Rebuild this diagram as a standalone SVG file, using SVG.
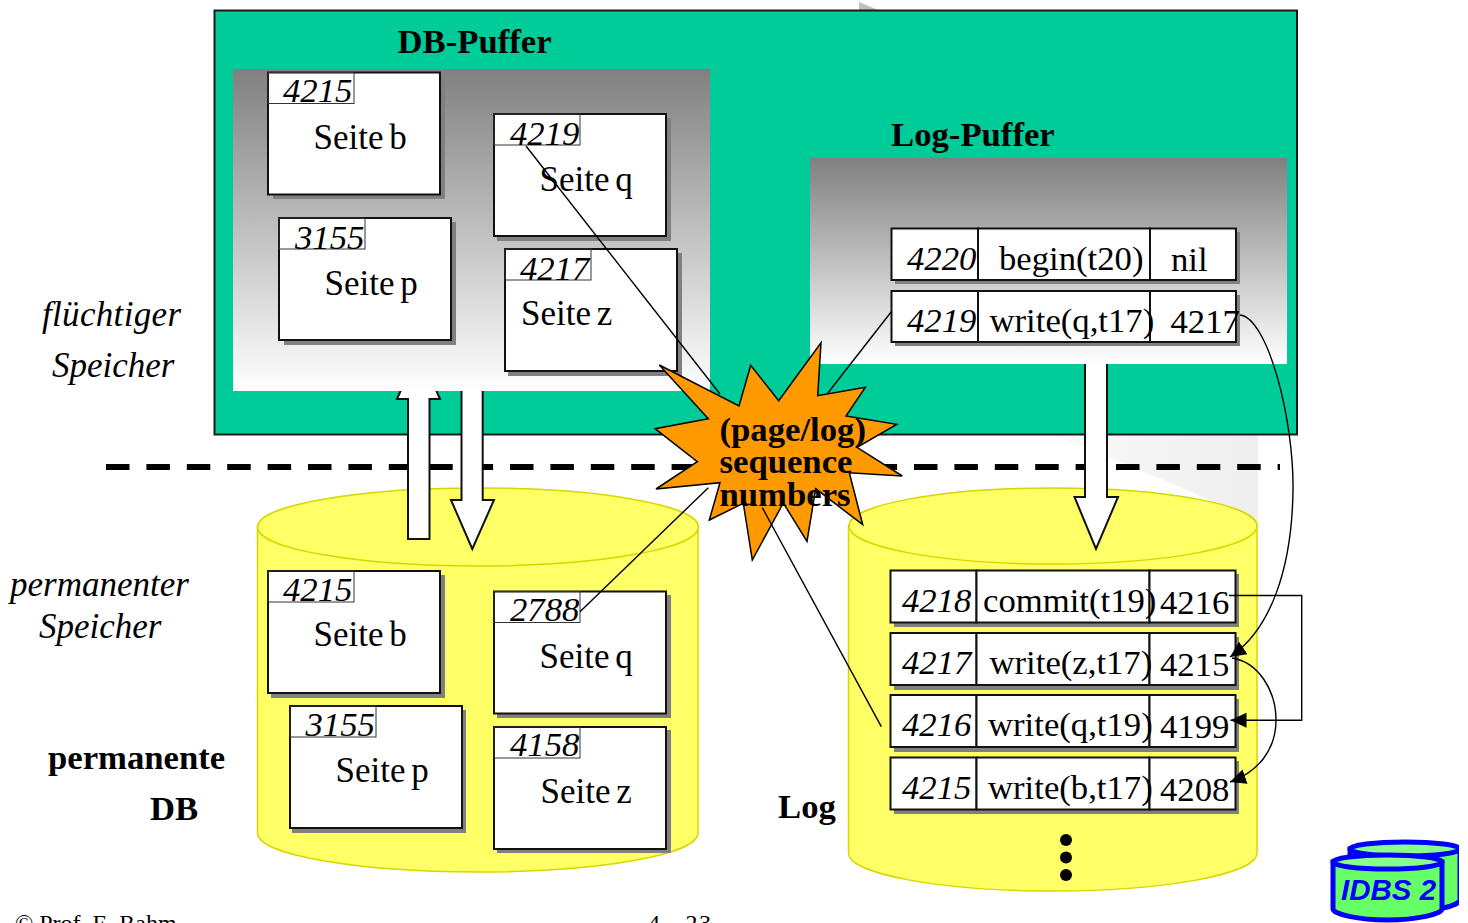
<svg xmlns="http://www.w3.org/2000/svg" width="1468" height="923" viewBox="0 0 1468 923">
<style>
text{font-family:"Liberation Serif","Times New Roman",serif;fill:#000}
.n{font-size:34.700px;font-style:italic}
.t{font-size:34.700px}
.s{font-size:35px;word-spacing:-3px}
.b{font-size:34.700px;font-weight:700}
.i{font-size:35px;font-style:italic}
.cyl{fill:#ffff66;stroke:#d6d600;stroke-width:1.500}
.pg{fill:#fff;stroke:#111;stroke-width:2}
.hd{fill:none;stroke:#333;stroke-width:1}
.sh{fill:#808080}
.cell{fill:#fff;stroke:#111;stroke-width:2}
.arrow{fill:#fff;stroke:#111;stroke-width:2;stroke-linejoin:miter}
.con{fill:none;stroke:#000;stroke-width:1.400}
.idb{stroke:#0000ff;stroke-width:5;fill:#66ff66}
.idt{fill:#88ff88;stroke:#0000ff;stroke-width:5}
</style>
<defs>
<linearGradient id="panel" x1="0" y1="0" x2="0" y2="1"><stop offset="0" stop-color="#808080"/><stop offset="1" stop-color="#fff"/></linearGradient>
<linearGradient id="fade" x1="0" y1="0" x2="1" y2="0"><stop offset="0" stop-color="#fafafa"/><stop offset="1" stop-color="#eee"/></linearGradient>
<marker id="ah" markerUnits="userSpaceOnUse" markerWidth="18" markerHeight="16" refX="16" refY="7.500" orient="auto"><path d="M0,0L16,7.500L0,15z" fill="#000"/></marker>
<clipPath id="iconclip"><rect x="1320" y="830" width="139" height="93"/></clipPath>
</defs>

<g id="background-shapes">
<polygon points="859,2 859,10 878,10" fill="#bfbfbf"/>
<polygon points="1053,435 1258,435 1258,525 1190,491" fill="url(#fade)"/>
</g>

<g id="volatile-memory"><rect x="214.500" y="10.500" width="1082.500" height="424" fill="#00cc99" stroke="#1a1a1a" stroke-width="2"/></g>

<g id="separator"><line x1="106" y1="467" x2="1280" y2="467" stroke="#000" stroke-width="6" stroke-dasharray="23.500 16.900"/></g>

<g id="db-cylinder">
<path class="cyl" d="M257.500,527V833C257.500,854.500 356,872 478,872S698,854.500 698,833V527z"/>
<ellipse class="cyl" cx="478" cy="527" rx="220.500" ry="39"/>
</g>
<g id="log-cylinder">
<path class="cyl" d="M848.500,526V853C848.500,874 940,891 1053,891S1257,874 1257,853V526z"/>
<ellipse class="cyl" cx="1053" cy="526" rx="204" ry="38"/>
</g>

<g id="transfer-arrows">
<path class="arrow" d="M408,539V399H397L418.500,350L440,399H429.500V539z"/>
<path class="arrow" d="M461.500,380V500H451L472.300,549L494,500H482.700V380z"/>
<path class="arrow" d="M1085,350V497H1074.500L1096,549L1118,497H1107V350z"/>
</g>

<g id="db-buffer-panel"><rect x="233" y="69" width="477" height="322" fill="url(#panel)"/><text class="b" x="397.500" y="52.500">DB-Puffer</text></g>
<g id="log-buffer-panel"><rect x="810" y="158" width="477" height="206" fill="url(#panel)"/><text class="b" x="891" y="146">Log-Puffer</text></g>

<g id="buf-page-b"><rect class="sh" x="273" y="77" width="172" height="122"/><rect class="pg" x="268" y="72.500" width="172" height="122"/><rect class="hd" x="268" y="72.500" width="86" height="31"/><text class="n" x="283" y="102">4215</text><text class="s" x="313.500" y="149">Seite b</text></g>
<g id="buf-page-p"><rect class="sh" x="284" y="222" width="172" height="123"/><rect class="pg" x="279" y="218" width="172" height="122"/><rect class="hd" x="279" y="218" width="86" height="31"/><text class="n" x="295" y="249">3155</text><text class="s" x="324.500" y="295">Seite p</text></g>
<g id="buf-page-q"><rect class="sh" x="497" y="118" width="174" height="123"/><rect class="pg" x="494" y="114" width="172" height="122"/><rect class="hd" x="494" y="114" width="86" height="31"/><text class="n" x="510" y="145">4219</text><text class="s" x="539.500" y="190.500">Seite q</text></g>
<g id="buf-page-z"><rect class="sh" x="508" y="253" width="174" height="123"/><rect class="pg" x="505" y="249" width="172" height="122"/><rect class="hd" x="505" y="249" width="86" height="31"/><text class="n" x="520" y="280">4217</text><text class="s" x="521" y="325">Seite z</text></g>

<g id="log-buffer-4220"><rect class="sh" x="895" y="232" width="345" height="52"/><rect class="cell" x="891.500" y="228.500" width="86.500" height="51.500"/><rect class="cell" x="978" y="228.500" width="172" height="51.500"/><rect class="cell" x="1150" y="228.500" width="86" height="51.500"/><text class="n" x="907" y="270">4220</text><text class="t" x="999" y="270">begin(t20)</text><text class="t" x="1171" y="271">nil</text></g>
<g id="log-buffer-4219"><rect class="sh" x="895" y="295" width="345" height="51"/><rect class="cell" x="891.500" y="291" width="86.500" height="51"/><rect class="cell" x="978" y="291" width="172" height="51"/><rect class="cell" x="1150" y="291" width="86" height="51"/><text class="n" x="907" y="332">4219</text><text class="t" x="989.500" y="332">write(q,t17)</text><text class="t" x="1170.500" y="333">4217</text></g>

<g id="perm-page-b"><rect class="sh" x="271" y="575" width="174" height="123"/><rect class="pg" x="268" y="571" width="172" height="122"/><rect class="hd" x="268" y="571" width="86" height="31"/><text class="n" x="283" y="601">4215</text><text class="s" x="313.500" y="646">Seite b</text></g>
<g id="perm-page-p"><rect class="sh" x="292" y="710" width="174" height="123"/><rect class="pg" x="290" y="706" width="172" height="122"/><rect class="hd" x="290" y="706" width="86" height="31"/><text class="n" x="305.500" y="736">3155</text><text class="s" x="335.500" y="782">Seite p</text></g>
<g id="perm-page-q"><rect class="sh" x="497" y="595" width="174" height="123"/><rect class="pg" x="494" y="591.500" width="172" height="122"/><rect class="hd" x="494" y="591.500" width="86" height="31"/><text class="n" x="510" y="621">2788</text><text class="s" x="539.500" y="668">Seite q</text></g>
<g id="perm-page-z"><rect class="sh" x="497" y="730" width="174" height="123"/><rect class="pg" x="494" y="727" width="172" height="122"/><rect class="hd" x="494" y="727" width="86" height="31"/><text class="n" x="510" y="756">4158</text><text class="s" x="540.500" y="803">Seite z</text></g>

<g id="log-4218"><rect class="sh" x="894" y="574" width="345" height="53"/><rect class="cell" x="890.500" y="570.500" width="86" height="52"/><rect class="cell" x="976.500" y="570.500" width="173" height="52"/><rect class="cell" x="1149.500" y="570.500" width="86" height="52"/><text class="n" x="902" y="612">4218</text><text class="t" x="983" y="612">commit(t19)</text><text class="t" x="1160" y="614">4216</text></g>
<g id="log-4217"><rect class="sh" x="894" y="637" width="345" height="53"/><rect class="cell" x="890.500" y="633" width="86" height="52"/><rect class="cell" x="976.500" y="633" width="173" height="52"/><rect class="cell" x="1149.500" y="633" width="86" height="52"/><text class="n" x="902" y="674">4217</text><text class="t" x="989.500" y="674">write(z,t17)</text><text class="t" x="1160" y="676">4215</text></g>
<g id="log-4216"><rect class="sh" x="894" y="699" width="345" height="53"/><rect class="cell" x="890.500" y="695" width="86" height="52"/><rect class="cell" x="976.500" y="695" width="173" height="52"/><rect class="cell" x="1149.500" y="695" width="86" height="52"/><text class="n" x="902" y="736">4216</text><text class="t" x="988" y="736">write(q,t19)</text><text class="t" x="1160" y="738">4199</text></g>
<g id="log-4215"><rect class="sh" x="894" y="761" width="345" height="53"/><rect class="cell" x="890.500" y="757.500" width="86" height="52"/><rect class="cell" x="976.500" y="757.500" width="173" height="52"/><rect class="cell" x="1149.500" y="757.500" width="86" height="52"/><text class="n" x="902" y="799">4215</text><text class="t" x="988" y="799">write(b,t17)</text><text class="t" x="1160" y="801">4208</text></g>
<g id="log-more"><circle cx="1066" cy="840" r="6"/><circle cx="1066" cy="857.500" r="6"/><circle cx="1066" cy="875" r="6"/></g>

<g id="sequence-burst">
<polygon points="659.300,365 739,406 750.700,365.300 778.700,400.700 821,342.700 817.700,395.700 865.300,387.300 846,416 896.700,424.300 857,447.300 902.300,476 849.300,472.700 862.700,524.700 815.700,488.700 807,541.300 783.300,503 752.300,560 743.300,503.300 709.300,520 720,482.700 656,489 697.300,461.700 655,428.700 708.300,418.700" fill="#ff9900" stroke="#000" stroke-width="1.500"/>
<text class="b" x="719.500" y="441">(page/log)</text>
<text class="b" x="719.500" y="473">sequence</text>
<text class="b" x="719.500" y="506">numbers</text>
</g>

<g id="connectors">
<line class="con" x1="526" y1="146" x2="720" y2="394"/>
<line class="con" x1="891.300" y1="311.700" x2="827.700" y2="393.300"/>
<line class="con" x1="580" y1="611.700" x2="708.300" y2="487.700"/>
<line class="con" x1="762.300" y1="507.700" x2="881.300" y2="726.700"/>
<path class="con" marker-end="url(#ah)" d="M1240,315C1268,318 1294,420 1293,490C1292,570 1270,630 1230,657"/>
<path class="con" marker-end="url(#ah)" d="M1232,658C1258,662 1276,690 1276,720C1276,750 1258,772 1230,782"/>
<path class="con" marker-end="url(#ah)" d="M1229,595.500H1301.700V720.300H1230.500"/>
</g>

<g id="labels">
<text class="i" x="42" y="326" textLength="139">flüchtiger</text>
<text class="i" x="52" y="377">Speicher</text>
<text class="i" x="10" y="595.500">permanenter</text>
<text class="i" x="39" y="637.500">Speicher</text>
<text class="b" x="48" y="769">permanente</text>
<text class="b" x="150" y="820">DB</text>
<text class="b" x="778" y="818">Log</text>
<text x="15" y="931" font-size="24">© Prof. E. Rahm</text>
<text x="648" y="931" font-size="24" textLength="63">4 - 23</text>
</g>

<g id="idbs-logo" clip-path="url(#iconclip)">
<path class="idb" d="M1350,849V900C1350,905 1375,912 1405,912S1460,905 1460,900V849z"/>
<ellipse class="idt" cx="1405" cy="849" rx="55" ry="7"/>
<path class="idb" d="M1333,862V909C1333,914 1358,920 1387.500,920S1442,914 1442,909V862z"/>
<ellipse class="idt" cx="1387.500" cy="862" rx="54.500" ry="7"/>
<text x="1341" y="900" font-size="29.500" font-weight="700" font-style="italic" style="font-family:'Liberation Sans',Arial,sans-serif;fill:#0000ff">IDBS 2</text>
</g>
</svg>
